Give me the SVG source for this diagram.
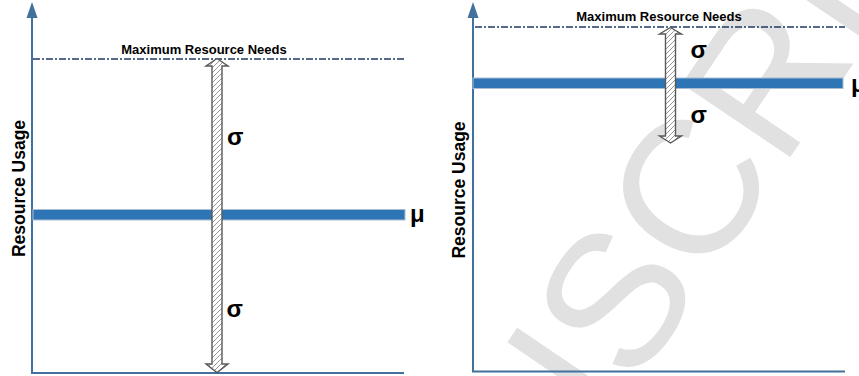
<svg xmlns="http://www.w3.org/2000/svg" width="859" height="376" viewBox="0 0 859 376">
<style>
.axis{stroke:#41719c;stroke-width:2;fill:none}
.axhead{fill:#41719c}
.maxline{stroke:#1f3864;stroke-width:1.3;stroke-dasharray:7 2 2 2;fill:none}
.mu{fill:#2e75b6;stroke:#a9bed3;stroke-width:1}
.dbl{fill:url(#hatch);stroke:#595959;stroke-width:1.4;stroke-linejoin:miter}
.lbl{font-family:"Liberation Sans",Arial,sans-serif;font-weight:bold;fill:#000}
.small{font-size:13px}
.sym{font-size:24px}
.ylab{font-size:17.5px}
.wm{font-family:"Liberation Sans",Arial,sans-serif;font-size:190px;fill:#e1e1e1}
</style>
<defs>
<pattern id="hatch" patternUnits="userSpaceOnUse" width="5" height="5">
<rect width="5" height="5" fill="#ffffff"/>
<path d="M-1,6 L6,-1 M-1,1 L1,-1 M4,6 L6,4" stroke="#8c8c8c" stroke-width="0.9"/>
</pattern>
</defs>
<rect width="859" height="376" fill="#ffffff"/>
<text class="wm" transform="translate(613,298) rotate(-56)" x="-623" y="68">MANUSCRIPT</text>

<g id="left-chart">
<g id="left-axes">
<line class="axis" x1="32" y1="14" x2="32" y2="374"/>
<polygon class="axhead" points="32,2 26.5,18 37.5,18"/>
<line class="axis" x1="31" y1="373" x2="404" y2="373"/>
</g>
<g id="left-max">
<line class="maxline" x1="33" y1="59" x2="405" y2="59"/>
<text class="lbl small" x="204" y="54" text-anchor="middle">Maximum Resource Needs</text>
</g>
<g id="left-mu">
<rect class="mu" x="33" y="209.5" width="372" height="10.5"/>
<text class="lbl sym" x="410" y="222">μ</text>
</g>
<g id="left-ylabel">
<text class="lbl ylab" transform="translate(24.5,188.5) rotate(-90)" text-anchor="middle">Resource Usage</text>
</g>
<g id="left-sigma">
<path class="dbl" d="M217,58.5 L228,66 L222,66 L222,364 L228,364 L217,372.5 L206,364 L212,364 L212,66 L206,66 Z"/>
<text class="lbl sym" x="227" y="145">σ</text>
<text class="lbl sym" x="226.5" y="317">σ</text>
</g>
</g>

<g id="right-chart">
<g id="right-axes">
<line class="axis" x1="473" y1="14" x2="473" y2="372"/>
<polygon class="axhead" points="473,2 467.5,18 478.5,18"/>
<line class="axis" x1="472" y1="371.5" x2="845" y2="371.5"/>
</g>
<g id="right-max">
<line class="maxline" x1="475" y1="27" x2="845" y2="27"/>
<text class="lbl small" x="659" y="21" text-anchor="middle">Maximum Resource Needs</text>
</g>
<g id="right-mu">
<rect class="mu" x="473" y="78" width="370" height="10.5"/>
<text class="lbl sym" x="851" y="92">μ</text>
</g>
<g id="right-ylabel">
<text class="lbl ylab" transform="translate(464.5,190) rotate(-90)" text-anchor="middle">Resource Usage</text>
</g>
<g id="right-sigma">
<path class="dbl" d="M670.5,27.5 L681.5,34 L675.5,34 L675.5,136 L681.5,136 L670.5,143 L659.5,136 L665.5,136 L665.5,34 L659.5,34 Z"/>
<text class="lbl sym" x="690.5" y="58">σ</text>
<text class="lbl sym" x="690.5" y="123">σ</text>
</g>
</g>
</svg>
